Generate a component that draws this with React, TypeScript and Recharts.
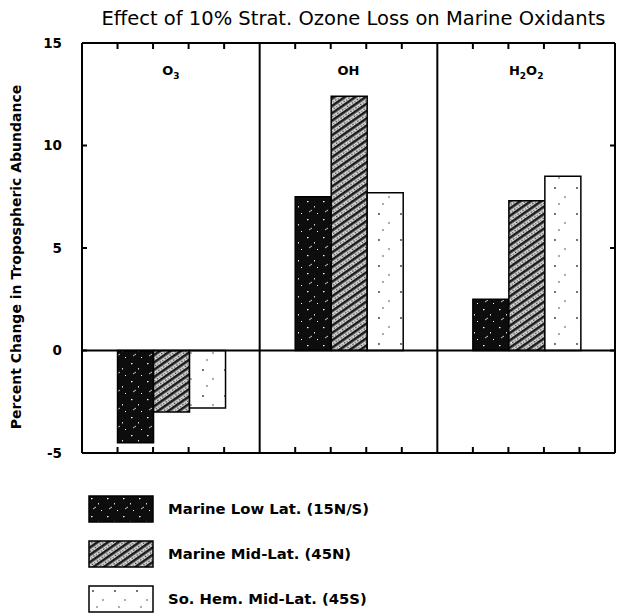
import {
  BarChart,
  Bar,
  XAxis,
  YAxis,
  CartesianGrid,
  ReferenceLine,
} from 'recharts'

// panels (species) and the three model regions
const PANELS = ['O3', 'OH', 'H2O2']
const LOW_LAT = [-4.5, 7.5, 2.5]      // Marine Low Lat. (15N/S)
const MID_LAT = [-3.0, 12.4, 7.3]     // Marine Mid-Lat. (45N)
const SH_MID_LAT = [-2.8, 7.7, 8.5]   // So. Hem. Mid-Lat. (45S)
const Y_TICKS = [-5, 0, 5, 10, 15]
const PANEL_TICK_OFFSETS = [-0.3, -0.1, 0.1, 0.3]   // fractions of a panel, around its centre

const SERIES = [
  { key: 'low', name: 'Marine Low Lat. (15N/S)', fill: 'url(#pDark)' },
  { key: 'mid', name: 'Marine Mid-Lat. (45N)', fill: 'url(#pHatch)' },
  { key: 'sh', name: 'So. Hem. Mid-Lat. (45S)', fill: 'url(#pDots)' },
]

const data = PANELS.map((p, i) => ({
  panel: p,
  low: LOW_LAT[i],
  mid: MID_LAT[i],
  sh: SH_MID_LAT[i],
}))

const W = 621
const H = 613
const MARGIN = { top: 43, right: 6, bottom: 160, left: 6 }
const Y_AXIS_W = 76
const BAND = (W - MARGIN.left - MARGIN.right - Y_AXIS_W) / PANELS.length

const FONT = '"DejaVu Sans", "Liberation Sans", sans-serif'
const blank = () => ''

// top axis: inward tick marks + formula label (digits become subscripts)
const TopTick = ({ x, y, payload }: any) => {
  const parts = String(payload.value).split(/(\d)/).filter(Boolean)
  return (
    <g>
      {PANEL_TICK_OFFSETS.map(f => (
        <line key={f} x1={x + f * BAND} x2={x + f * BAND} y1={y} y2={y + 6} stroke="#000" strokeWidth={2} />
      ))}
      <text x={x} y={y + 32} textAnchor="middle" fontFamily={FONT} fontWeight="bold" fontSize={13} fill="#000">
        {parts.map((s, i) =>
          /\d/.test(s)
            ? <tspan key={i} fontSize={9} dy={4}>{s}</tspan>
            : <tspan key={i} dy={i > 0 && /\d/.test(parts[i - 1]) ? -4 : 0}>{s}</tspan>
        )}
      </text>
    </g>
  )
}

const BottomTick = ({ x, y }: any) => (
  <g>
    {PANEL_TICK_OFFSETS.map(f => (
      <line key={f} x1={x + f * BAND} x2={x + f * BAND} y1={y} y2={y - 6} stroke="#000" strokeWidth={2} />
    ))}
  </g>
)

const YLabel = ({ viewBox }: any) => {
  const cx = viewBox.x + 10
  const cy = viewBox.y + viewBox.height / 2 + 9
  return (
    <text x={cx} y={cy} transform={`rotate(-90 ${cx} ${cy})`} textAnchor="middle" dominantBaseline="central"
      fontFamily={FONT} fontWeight="bold" fontSize={14} fill="#000">
      Percent Change in Tropospheric Abundance
    </text>
  )
}

const Patterns = () => (
  <svg width={0} height={0} style={{ position: 'absolute' }}>
    <defs>
      <pattern id="pDark" width="16" height="18" patternUnits="userSpaceOnUse">
        <rect width="16" height="18" fill="#0d0d0d" />
        <rect x="3" y="3" width="1.5" height="1.2" fill="#fff" />
        <rect x="10" y="8" width="1" height="1.5" fill="#ddd" />
        <path d="M5 14 L8 12" stroke="#fff" strokeWidth="0.8" />
        <rect x="13" y="15" width="1" height="1" fill="#fff" />
      </pattern>
      <pattern id="pHatch" width="6" height="6" patternUnits="userSpaceOnUse" patternTransform="rotate(-35)">
        <rect width="6" height="6" fill="#d8d8d8" />
        <rect y="0" width="6" height="2.6" fill="#1a1a1a" />
        <rect x="1" y="3.8" width="1.4" height="1.4" fill="#333" />
        <rect x="4" y="4.2" width="1.2" height="1.2" fill="#444" />
      </pattern>
      <pattern id="pDots" width="22" height="26" patternUnits="userSpaceOnUse">
        <rect width="22" height="26" fill="#fff" />
        <circle cx="5" cy="6" r="0.9" fill="#333" />
        <circle cx="15" cy="15" r="0.8" fill="#444" />
        <circle cx="9" cy="22" r="0.8" fill="#444" />
      </pattern>
    </defs>
  </svg>
)

export default function App() {
  return (
    <div style={{ position: 'absolute', left: 0, top: 0, width: W, height: H, background: '#fff' }}>
      <Patterns />
      <div style={{
        position: 'absolute', left: 90, top: 7, width: 527, textAlign: 'center',
        fontFamily: FONT, fontSize: 19.5, lineHeight: '24px', color: '#000', whiteSpace: 'nowrap',
      }}>
        Effect of 10% Strat. Ozone Loss on Marine Oxidants
      </div>
      <BarChart
        width={W}
        height={H}
        data={data}
        margin={MARGIN}
        barCategoryGap="20%"
        barGap={0}
      >
        <CartesianGrid xAxisId="cat" yAxisId="left" horizontal={false} stroke="#000" strokeWidth={2}
          verticalCoordinatesGenerator={({ offset }: any) =>
            PANELS.slice(1).map((_, i) => offset.left + (i + 1) * offset.width / PANELS.length)} />
        <XAxis xAxisId="cat" dataKey="panel" orientation="top" mirror height={1} tickSize={0} tickMargin={0}
          tickLine={false} stroke="#000" strokeWidth={2} tick={<TopTick />} />
        <XAxis xAxisId="catB" dataKey="panel" orientation="bottom" mirror height={1} tickSize={0} tickMargin={0}
          tickLine={false} stroke="#000" strokeWidth={2} tick={<BottomTick />} />
        <YAxis yAxisId="left" domain={[-5, 15]} ticks={Y_TICKS} width={Y_AXIS_W} axisLine={false} tickLine={false}
          tick={{ fill: '#000', fontSize: 13.5, fontWeight: 'bold', fontFamily: FONT }} tickMargin={14}
          label={<YLabel />} allowDataOverflow />
        <YAxis yAxisId="lm" domain={[-5, 15]} ticks={Y_TICKS} mirror tickFormatter={blank} tickSize={5}
          stroke="#000" strokeWidth={2} allowDataOverflow />
        <YAxis yAxisId="rm" orientation="right" domain={[-5, 15]} ticks={Y_TICKS} mirror tickFormatter={blank}
          tickSize={5} stroke="#000" strokeWidth={2} allowDataOverflow />
        {SERIES.map(s => (
          <Bar key={s.key} xAxisId="cat" yAxisId="left" dataKey={s.key} name={s.name} fill={s.fill}
            stroke="#000" strokeWidth={1.5} isAnimationActive={false} />
        ))}
        <ReferenceLine xAxisId="cat" yAxisId="left" y={0} stroke="#000" strokeWidth={2} />
      </BarChart>
      <div style={{ position: 'absolute', left: 88, top: 486 }}>
        {SERIES.map(s => (
          <div key={s.key} style={{ display: 'flex', alignItems: 'center', height: 45 }}>
            <svg width={66} height={28}>
              <rect x={1} y={1} width={64} height={26} fill={s.fill} stroke="#000" strokeWidth={1.5} />
            </svg>
            <span style={{ marginLeft: 14, fontFamily: FONT, fontWeight: 'bold', fontSize: 14.8, color: '#000' }}>
              {s.name}
            </span>
          </div>
        ))}
      </div>
    </div>
  )
}
